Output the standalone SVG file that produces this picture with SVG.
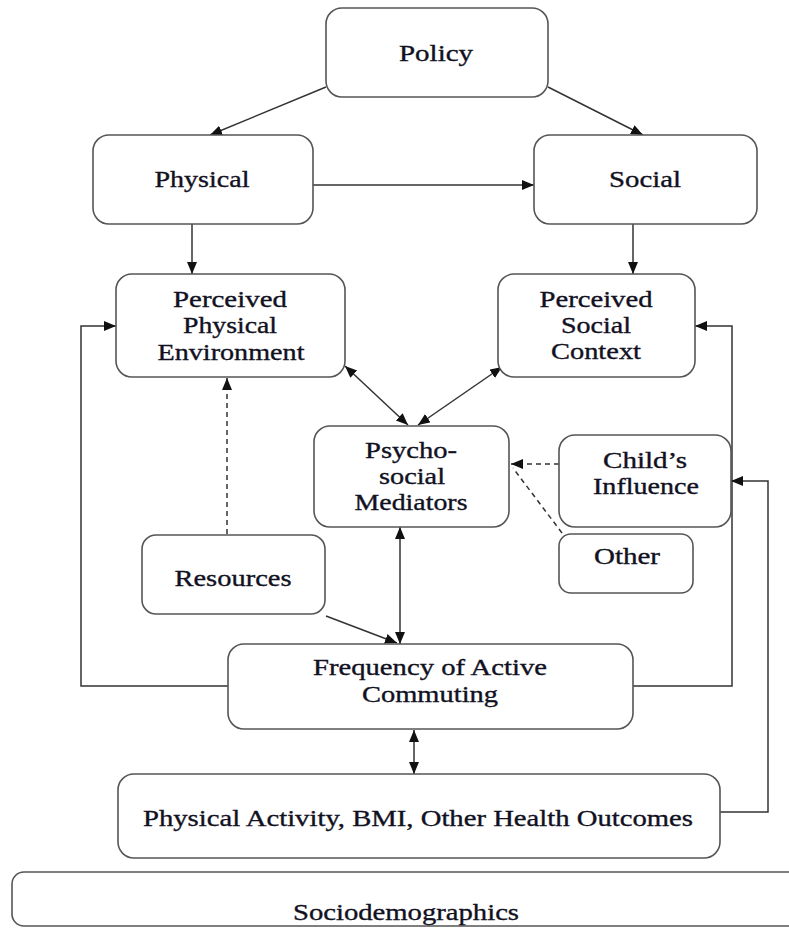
<svg xmlns="http://www.w3.org/2000/svg" width="789" height="928" viewBox="0 0 789 928">
  <style>
    .box { fill: #ffffff; stroke: #555555; stroke-width: 1.6; }
    .lbl { font-family: "Liberation Serif", "Times New Roman", serif; font-size: 23px; fill: #111122; stroke: #111122; stroke-width: 0.35; text-anchor: middle; }
    .big { font-size: 24px; }
    .edge { fill: none; stroke: #333333; stroke-width: 1.5; }
    .dash { stroke-dasharray: 5 4; }
  </style>
  <defs>
    <marker id="arrow" markerUnits="userSpaceOnUse" markerWidth="13" markerHeight="11" refX="12" refY="5" orient="auto-start-reverse">
      <path d="M0,0 L12,5 L0,10 z" fill="#111111"/>
    </marker>
  </defs>
  <rect width="789" height="928" fill="#ffffff"/>

  <!-- connectors -->
  <g id="connectors">
    <line class="edge" x1="326" y1="87" x2="210" y2="135" marker-end="url(#arrow)"/>
    <line class="edge" x1="548" y1="87" x2="643" y2="135" marker-end="url(#arrow)"/>
    <line class="edge" x1="313" y1="185" x2="534" y2="185" marker-end="url(#arrow)"/>
    <line class="edge" x1="192" y1="224" x2="192" y2="274" marker-end="url(#arrow)"/>
    <line class="edge" x1="633" y1="224" x2="633" y2="274" marker-end="url(#arrow)"/>
    <line class="edge" x1="345" y1="366" x2="408" y2="425" marker-start="url(#arrow)" marker-end="url(#arrow)"/>
    <line class="edge" x1="502" y1="367" x2="418" y2="425" marker-start="url(#arrow)" marker-end="url(#arrow)"/>
    <line class="edge dash" x1="227" y1="534" x2="227" y2="378" marker-end="url(#arrow)"/>
    <line class="edge dash" x1="559" y1="464" x2="511" y2="464" marker-end="url(#arrow)"/>
    <line class="edge dash" x1="562" y1="533" x2="513" y2="468"/>
    <line class="edge" x1="400" y1="527" x2="400" y2="644" marker-start="url(#arrow)" marker-end="url(#arrow)"/>
    <line class="edge" x1="326" y1="616" x2="397" y2="643" marker-end="url(#arrow)"/>
    <line class="edge" x1="414" y1="730" x2="414" y2="774" marker-start="url(#arrow)" marker-end="url(#arrow)"/>
    <polyline class="edge" points="228,686 81,686 81,326 116,326" marker-end="url(#arrow)"/>
    <polyline class="edge" points="633,686 732,686 732,326 695,326" marker-end="url(#arrow)"/>
    <polyline class="edge" points="720,812 768,812 768,481 731,481" marker-end="url(#arrow)"/>
  </g>

  <g id="policy">
    <rect class="box" x="326" y="8" width="222" height="89" rx="16"/>
    <text class="lbl" x="436" y="61" textLength="74" lengthAdjust="spacingAndGlyphs">Policy</text>
  </g>
  <g id="physical">
    <rect class="box" x="93" y="135" width="220" height="89" rx="16"/>
    <text class="lbl" x="202" y="187" textLength="95" lengthAdjust="spacingAndGlyphs">Physical</text>
  </g>
  <g id="social">
    <rect class="box" x="534" y="135" width="223" height="89" rx="16"/>
    <text class="lbl" x="645" y="187" textLength="72" lengthAdjust="spacingAndGlyphs">Social</text>
  </g>
  <g id="perceived-physical">
    <rect class="box" x="116" y="274" width="229" height="103" rx="16"/>
    <text class="lbl" x="230" y="307" textLength="114" lengthAdjust="spacingAndGlyphs">Perceived</text>
    <text class="lbl" x="230" y="333" textLength="94" lengthAdjust="spacingAndGlyphs">Physical</text>
    <text class="lbl" x="231" y="360" textLength="147" lengthAdjust="spacingAndGlyphs">Environment</text>
  </g>
  <g id="perceived-social">
    <rect class="box" x="498" y="274" width="197" height="103" rx="16"/>
    <text class="lbl" x="596" y="307" textLength="113" lengthAdjust="spacingAndGlyphs">Perceived</text>
    <text class="lbl" x="596" y="333" textLength="70" lengthAdjust="spacingAndGlyphs">Social</text>
    <text class="lbl" x="596" y="359" textLength="90" lengthAdjust="spacingAndGlyphs">Context</text>
  </g>
  <g id="mediators">
    <rect class="box" x="314" y="426" width="195" height="101" rx="16"/>
    <text class="lbl" x="411" y="458" textLength="92" lengthAdjust="spacingAndGlyphs">Psycho-</text>
    <text class="lbl" x="412" y="484" textLength="66" lengthAdjust="spacingAndGlyphs">social</text>
    <text class="lbl" x="411" y="510" textLength="113" lengthAdjust="spacingAndGlyphs">Mediators</text>
  </g>
  <g id="childs-influence">
    <rect class="box" x="559" y="435" width="172" height="92" rx="16"/>
    <text class="lbl" x="645" y="468" textLength="84" lengthAdjust="spacingAndGlyphs">Child’s</text>
    <text class="lbl" x="646" y="494" textLength="106" lengthAdjust="spacingAndGlyphs">Influence</text>
  </g>
  <g id="other">
    <rect class="box" x="559" y="534" width="134" height="59" rx="12"/>
    <text class="lbl" x="627" y="564" textLength="66" lengthAdjust="spacingAndGlyphs">Other</text>
  </g>
  <g id="resources">
    <rect class="box" x="142" y="535" width="183" height="79" rx="14"/>
    <text class="lbl" x="233" y="586" textLength="117" lengthAdjust="spacingAndGlyphs">Resources</text>
  </g>
  <g id="frequency">
    <rect class="box" x="228" y="644" width="405" height="85" rx="16"/>
    <text class="lbl" x="430" y="675" textLength="234" lengthAdjust="spacingAndGlyphs">Frequency of Active</text>
    <text class="lbl" x="430" y="702" textLength="136" lengthAdjust="spacingAndGlyphs">Commuting</text>
  </g>
  <g id="outcomes">
    <rect class="box" x="118" y="774" width="602" height="84" rx="16"/>
    <text class="lbl big" x="418" y="826" textLength="550" lengthAdjust="spacingAndGlyphs">Physical Activity, BMI, Other Health Outcomes</text>
  </g>
  <g id="sociodemographics">
    <rect class="box" x="12" y="872" width="800" height="54" rx="12"/>
    <text class="lbl big" x="406" y="920" textLength="226" lengthAdjust="spacingAndGlyphs">Sociodemographics</text>
  </g>
</svg>
